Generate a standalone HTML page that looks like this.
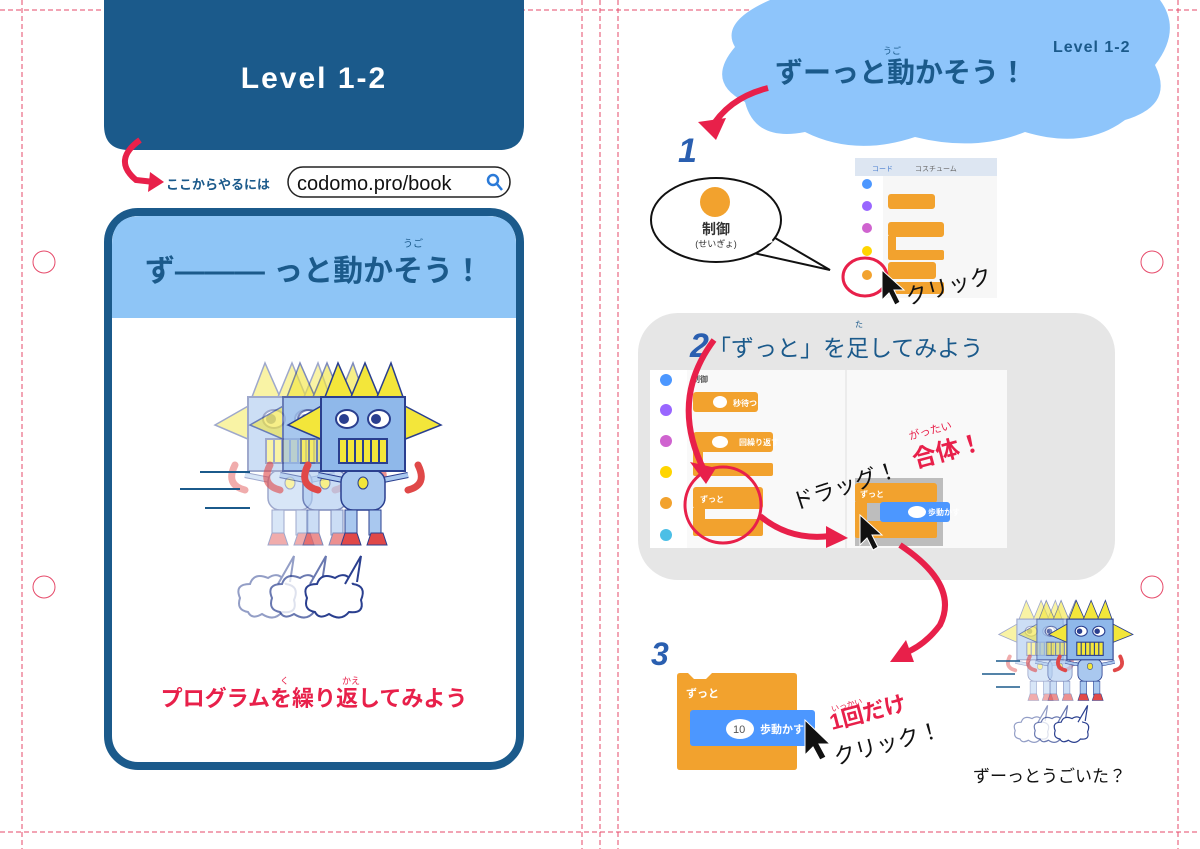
<!DOCTYPE html>
<html><head><meta charset="utf-8"><style>
body{margin:0;background:#fff;}
svg{display:block;font-family:"Liberation Sans","Noto Sans CJK JP",sans-serif;}
</style></head><body>
<svg width="1200" height="849" viewBox="0 0 1200 849" xmlns="http://www.w3.org/2000/svg">
<defs>
<g id="robot">
 <polygon points="-40,-30 -75,-10 -40,5" fill="#f3e63a" stroke="#2a3f8f" stroke-width="1.5"/>
 <polygon points="40,-30 78,-10 40,5" fill="#f3e63a" stroke="#2a3f8f" stroke-width="1.5"/>
 <polygon points="-38,-38 -25,-72 -10,-38" fill="#f3e63a" stroke="#2a3f8f" stroke-width="1.5"/>
 <polygon points="-12,-38 2,-72 16,-38" fill="#f3e63a" stroke="#2a3f8f" stroke-width="1.5"/>
 <polygon points="14,-38 28,-72 40,-38" fill="#f3e63a" stroke="#2a3f8f" stroke-width="1.5"/>
 <path d="M-55,30 q-10,20 10,25 M55,30 q10,20 -10,25" stroke="#e04848" stroke-width="7" fill="none" stroke-linecap="round"/>
 <path d="M-20,45 L-45,40 M20,45 L45,40" stroke="#2a3f8f" stroke-width="6"/>
 <path d="M-20,45 L-45,40 M20,45 L45,40" stroke="#a9c8ef" stroke-width="4"/>
 <rect x="-22" y="35" width="44" height="40" rx="12" fill="#a9c8ef" stroke="#2a3f8f" stroke-width="1.5"/>
 <ellipse cx="0" cy="48" rx="5" ry="6" fill="#f3e63a" stroke="#2a3f8f"/>
 <rect x="-18" y="75" width="12" height="25" fill="#a9c8ef" stroke="#2a3f8f"/>
 <rect x="6" y="75" width="12" height="25" fill="#a9c8ef" stroke="#2a3f8f"/>
 <path d="M-22,110 l4,-12 h12 l4,12 z M4,110 l4,-12 h12 l4,12z" fill="#e04848" stroke="#2a3f8f"/>
 <rect x="-42" y="-38" width="84" height="74" fill="#8fb8ea" stroke="#2a3f8f" stroke-width="2"/>
 <ellipse cx="-16" cy="-16" rx="11" ry="9" fill="#fff" stroke="#2a3f8f" stroke-width="2"/>
 <ellipse cx="16" cy="-16" rx="11" ry="9" fill="#fff" stroke="#2a3f8f" stroke-width="2"/>
 <circle cx="-19" cy="-16" r="5" fill="#2a3f8f"/><circle cx="13" cy="-16" r="5" fill="#2a3f8f"/>
 <rect x="-24" y="4" width="48" height="24" fill="#f3e63a" stroke="#2a3f8f" stroke-width="2"/>
 <path d="M-16,4v24M-8,4v24M0,4v24M8,4v24M16,4v24" stroke="#2a3f8f" stroke-width="2"/>
</g>
<g id="cloud">
 <path d="M0,40 q-12,-2 -8,-14 q-6,-14 10,-14 q4,-12 18,-6 q12,-8 18,6 q14,2 8,16 q4,14 -12,12 q-8,10 -20,2 q-10,6 -14,-2z" fill="#fff" stroke="#2a3f8f" stroke-width="2"/>
 <path d="M30,12 l16,-28 l-4,26" fill="#fff" stroke="#2a3f8f" stroke-width="2"/>
</g>
</defs>
<!-- guide lines -->
<g stroke="#e64a6a" stroke-width="1" stroke-dasharray="5,3" fill="none">
 <line x1="22" y1="0" x2="22" y2="849"/><line x1="582" y1="0" x2="582" y2="849"/>
 <line x1="600" y1="0" x2="600" y2="849"/><line x1="618" y1="0" x2="618" y2="849"/>
 <line x1="1178" y1="0" x2="1178" y2="849"/>
 <line x1="0" y1="10" x2="1200" y2="10"/><line x1="0" y1="832" x2="1200" y2="832"/>
</g>
<g stroke="#e64a6a" fill="none" stroke-width="1">
 <circle cx="44" cy="262" r="11"/><circle cx="44" cy="587" r="11"/>
 <circle cx="1152" cy="262" r="11"/><circle cx="1152" cy="587" r="11"/>
</g>
<!-- LEFT PAGE -->
<path d="M104,0 H524 V125 q0,25 -25,25 H129 q-25,0 -25,-25z" fill="#1b5a8b"/>
<text x="314" y="88" text-anchor="middle" fill="#fff" font-size="30" font-weight="bold" letter-spacing="2">Level 1-2</text>
<path d="M140,140 q-28,20 -4,40 l18,2" stroke="#e8204a" stroke-width="6" fill="none"/>
<polygon points="150,172 164,182 148,192" fill="#e8204a"/>
<text x="166" y="189" fill="#1b5a8b" font-size="13" font-weight="bold">ここからやるには</text>
<rect x="288" y="167" width="222" height="30" rx="15" fill="#fff" stroke="#222" stroke-width="1.5"/>
<text x="297" y="190" fill="#111" font-size="20">codomo.pro/book</text>
<circle cx="493" cy="180" r="5" fill="none" stroke="#2a7ad8" stroke-width="2.5"/>
<line x1="497" y1="184" x2="502" y2="190" stroke="#2a7ad8" stroke-width="2.5"/>
<rect x="108" y="212" width="412" height="554" rx="30" fill="#fff" stroke="#1b5a8b" stroke-width="8"/>
<path d="M112,318 V245 q0,-29 29,-29 H487 q29,0 29,29 V318z" fill="#8ec5f6"/>
<text x="314" y="281" text-anchor="middle" fill="#1b5a8b" font-size="30" font-weight="bold">ず――― っと動かそう！</text>
<text x="403" y="247" fill="#1b5a8b" font-size="10">うご</text>
<g transform="translate(290,435)" opacity="0.45"><use href="#robot"/></g>
<g transform="translate(325,435)" opacity="0.6"><use href="#robot"/></g>
<g transform="translate(363,435)"><use href="#robot"/></g>
<g stroke="#1b5a8b" stroke-width="2"><line x1="180" y1="489" x2="240" y2="489"/><line x1="200" y1="472" x2="250" y2="472"/><line x1="205" y1="508" x2="250" y2="508"/></g>
<g transform="translate(248,572)" opacity="0.5"><use href="#cloud"/></g>
<g transform="translate(280,572)" opacity="0.7"><use href="#cloud"/></g>
<g transform="translate(315,572)"><use href="#cloud"/></g>
<text x="314" y="706" text-anchor="middle" fill="#e8204a" font-size="22" font-weight="bold">プログラムを繰り返してみよう</text>
<text x="280" y="684" fill="#e8204a" font-size="9">く</text>
<text x="342" y="684" fill="#e8204a" font-size="9">かえ</text>
<!-- RIGHT PAGE -->
<path d="M650,0 H1160 q22,30 -5,65 q20,40 -30,55 q-40,30 -100,12 q-50,20 -110,5 q-60,20 -110,-5 q-50,10 -60,-30 q-40,-20 -10,-55 q-15,-25 35,-47z" fill="#8ec5fb"/>
<text x="1053" y="52" fill="#1b5a8b" font-size="16" font-weight="bold" letter-spacing="1">Level 1-2</text>
<text x="775" y="82" fill="#1b5a8b" font-size="28" font-weight="bold">ずーっと動かそう！</text>
<text x="883" y="54" fill="#1b5a8b" font-size="9">うご</text>
<path d="M768,88 q-40,10 -58,42" stroke="#e8204a" stroke-width="6" fill="none"/>
<polygon points="698,122 716,140 726,118" fill="#e8204a"/>
<text x="678" y="162" fill="#2a5fb0" font-size="34" font-style="italic" font-weight="bold">1</text>
<!-- bubble -->
<path d="M770,235 L830,270 L740,250z" fill="#fff" stroke="#111" stroke-width="2"/>
<ellipse cx="716" cy="220" rx="65" ry="42" fill="#fff" stroke="#111" stroke-width="2"/>
<path d="M745,252 L772,240" stroke="#fff" stroke-width="4"/>
<circle cx="715" cy="202" r="15" fill="#f2a22e"/>
<text x="716" y="234" text-anchor="middle" font-size="14" font-weight="bold" fill="#333">制御</text>
<text x="716" y="247" text-anchor="middle" font-size="9" fill="#333">(せいぎょ)</text>
<!-- screenshot 1 -->
<rect x="855" y="158" width="142" height="140" fill="#f7f7f7"/>
<rect x="855" y="158" width="142" height="18" fill="#dde6f2"/>
<text x="872" y="171" font-size="7" fill="#4a7fd0">コード</text><text x="915" y="171" font-size="7" fill="#666">コスチューム</text>
<rect x="855" y="176" width="28" height="122" fill="#fff"/>
<circle cx="867" cy="184" r="5" fill="#4c97ff"/><circle cx="867" cy="206" r="5" fill="#9966ff"/><circle cx="867" cy="228" r="5" fill="#cf63cf"/><circle cx="867" cy="251" r="5" fill="#ffd500"/><circle cx="867" cy="275" r="5" fill="#f2a22e"/>
<g fill="#f2a22e"><rect x="888" y="194" width="47" height="15" rx="3"/><rect x="888" y="222" width="56" height="15" rx="3"/><rect x="888" y="236" width="8" height="16"/><rect x="888" y="250" width="56" height="10" rx="2"/><rect x="888" y="262" width="48" height="17" rx="3"/><rect x="888" y="282" width="56" height="12" rx="2"/></g>
<ellipse cx="865" cy="277" rx="22" ry="19" fill="none" stroke="#e8204a" stroke-width="3"/>
<polygon points="882,270 882,300 889,293 895,305 900,302 894,290 904,290" fill="#111" stroke="#fff"/>
<text x="908" y="305" font-size="22" fill="#111" transform="rotate(-15 908 305)">クリック</text>
<!-- panel 2 -->
<rect x="638" y="313" width="477" height="267" rx="40" fill="#e6e6e6"/>
<text x="690" y="357" fill="#2a5fb0" font-size="34" font-style="italic" font-weight="bold">2</text>
<text x="708" y="356" fill="#1b5a8b" font-size="23">「ずっと」を足してみよう</text>
<text x="855" y="327" fill="#1b5a8b" font-size="8">た</text>
<rect x="650" y="370" width="357" height="178" fill="#f9f9f9"/>
<rect x="650" y="370" width="37" height="178" fill="#fff"/>
<line x1="846" y1="370" x2="846" y2="548" stroke="#e0e0e0"/>
<g font-size="6" fill="#555" text-anchor="middle"><circle cx="666" cy="380" r="6" fill="#4c97ff"/><circle cx="666" cy="410" r="6" fill="#9966ff"/><circle cx="666" cy="441" r="6" fill="#cf63cf"/><circle cx="666" cy="472" r="6" fill="#ffd500"/><circle cx="666" cy="503" r="6" fill="#f2a22e"/><circle cx="666" cy="535" r="6" fill="#4cbfe6"/></g>
<text x="692" y="382" font-size="8" font-weight="bold" fill="#555">制御</text>
<g fill="#f2a22e"><rect x="693" y="392" width="65" height="20" rx="3"/><rect x="693" y="432" width="80" height="20" rx="3"/><rect x="693" y="452" width="10" height="12"/><rect x="693" y="463" width="80" height="13" rx="2"/><rect x="693" y="487" width="70" height="22" rx="3"/><rect x="693" y="508" width="12" height="12"/><rect x="693" y="519" width="70" height="17" rx="2"/></g>
<g font-size="8" fill="#fff" font-weight="bold"><text x="700" y="502">ずっと</text><text x="733" y="406">秒待つ</text><text x="739" y="445">回繰り返す</text></g>
<ellipse cx="720" cy="402" rx="7" ry="6" fill="#fff"/><ellipse cx="720" cy="442" rx="8" ry="6" fill="#fff"/>
<ellipse cx="723" cy="505" rx="38" ry="38" fill="none" stroke="#e8204a" stroke-width="3"/>
<path d="M714,340 q-45,60 -10,130" stroke="#e8204a" stroke-width="6" fill="none"/>
<polygon points="690,462 716,468 706,484" fill="#e8204a"/>
<path d="M760,516 q30,25 70,20" stroke="#e8204a" stroke-width="6" fill="none"/>
<polygon points="826,526 848,538 826,548" fill="#e8204a"/>
<rect x="855" y="478" width="88" height="68" fill="#bdbdbd"/>
<rect x="855" y="483" width="82" height="20" rx="3" fill="#f2a22e"/><rect x="855" y="502" width="12" height="20" fill="#f2a22e"/><rect x="855" y="521" width="82" height="17" rx="2" fill="#f2a22e"/>
<rect x="880" y="502" width="70" height="20" rx="3" fill="#4c97ff"/>
<ellipse cx="917" cy="512" rx="9" ry="6" fill="#fff"/>
<text x="860" y="497" font-size="8" fill="#fff" font-weight="bold">ずっと</text>
<text x="928" y="515" font-size="8" fill="#fff" font-weight="bold">歩動かす</text>
<polygon points="860,515 860,545 867,538 873,550 878,547 872,535 882,535" fill="#111" stroke="#fff"/>
<text x="795" y="510" font-size="22" fill="#111" transform="rotate(-18 795 510)">ドラッグ！</text>
<text x="915" y="468" font-size="24" font-weight="bold" fill="#e8204a" transform="rotate(-15 915 468)">合体！</text>
<text x="910" y="440" font-size="11" fill="#e8204a" transform="rotate(-15 910 440)">がったい</text>
<!-- arrow to 3 -->
<path d="M900,545 q60,40 40,80 q-15,20 -35,28" stroke="#e8204a" stroke-width="6" fill="none"/>
<polygon points="890,662 906,640 914,662" fill="#e8204a"/>
<text x="651" y="665" fill="#2a5fb0" font-size="32" font-style="italic" font-weight="bold">3</text>
<!-- block 3 -->
<path d="M680,673 h8 l6,6 h12 l6,-6 h82 q3,0 3,3 v91 q0,3 -3,3 h-114 q-3,0 -3,-3 v-91 q0,-3 3,-3z" fill="#f2a22e"/>
<rect x="690" y="710" width="125" height="36" rx="3" fill="#4c97ff"/>
<ellipse cx="740" cy="729" rx="14" ry="10" fill="#fff"/>
<text x="733" y="733" font-size="11" fill="#555">10</text>
<text x="760" y="733" font-size="11" fill="#fff" font-weight="bold">歩動かす</text>
<text x="686" y="697" font-size="11" fill="#fff" font-weight="bold">ずっと</text>
<polygon points="805,720 805,755 813,747 820,760 826,757 819,744 830,744" fill="#111" stroke="#fff"/>
<text x="832" y="730" font-size="22" fill="#e8204a" font-weight="bold" transform="rotate(-15 832 730)">1回だけ</text>
<text x="832" y="712" font-size="8" fill="#e8204a" transform="rotate(-15 832 712)">いっかい</text>
<text x="836" y="765" font-size="22" fill="#111" transform="rotate(-15 836 765)">クリック！</text>
<g transform="translate(1040,640) scale(0.55)" opacity="0.45"><use href="#robot"/></g>
<g transform="translate(1060,640) scale(0.55)" opacity="0.6"><use href="#robot"/></g>
<g transform="translate(1090,640) scale(0.55)"><use href="#robot"/></g>
<g stroke="#1b5a8b" stroke-width="1.5"><line x1="982" y1="674" x2="1015" y2="674"/><line x1="996" y1="661" x2="1020" y2="661"/><line x1="996" y1="687" x2="1020" y2="687"/></g>
<g transform="translate(1020,715) scale(0.6)" opacity="0.5"><use href="#cloud"/></g>
<g transform="translate(1040,715) scale(0.6)" opacity="0.7"><use href="#cloud"/></g>
<g transform="translate(1060,715) scale(0.6)"><use href="#cloud"/></g>
<text x="973" y="782" font-size="17" fill="#111">ずーっとうごいた？</text>
</svg>
</body></html>
